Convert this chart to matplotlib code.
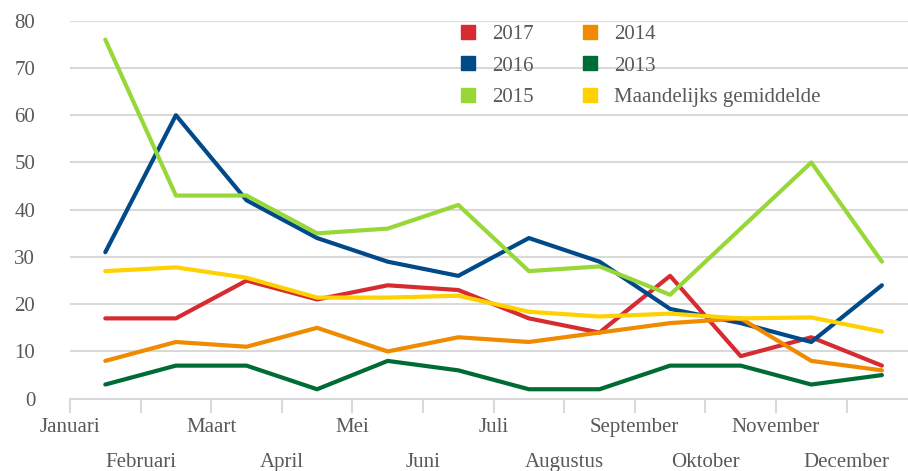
import numpy as np
import matplotlib.pyplot as plt
from matplotlib.lines import Line2D

months = ['Januari', 'Februari', 'Maart', 'April', 'Mei', 'Juni', 'Juli',
          'Augustus', 'September', 'Oktober', 'November', 'December']

y2017 = [17, 17, 25, 21, 24, 23, 17, 14, 26, 9, 13, 7]
y2016 = [31, 60, 42, 34, 29, 26, 34, 29, 19, 16, 12, 24]
y2015 = [76, 43, 43, 35, 36, 41, 27, 28, 22, 36, 50, 29]
y2014 = [8, 12, 11, 15, 10, 13, 12, 14, 16, 17, 8, 6]
y2013 = [3, 7, 7, 2, 8, 6, 2, 2, 7, 7, 3, 5]
gemiddelde = [27.0, 27.8, 25.6, 21.4, 21.4, 21.8, 18.4, 17.4, 18.0, 17.0, 17.2, 14.2]

series = [('2017', y2017, '#D62B30'),
          ('2016', y2016, '#004A8A'),
          ('2015', y2015, '#97D737'),
          ('2014', y2014, '#F08A00'),
          ('2013', y2013, '#006C35'),
          ('Maandelijks gemiddelde', gemiddelde, '#FFD100')]

plt.rcParams['font.family'] = ['Liberation Serif', 'DejaVu Serif']
txt = '#595959'
grid_c = '#D9D9D9'
fs = 15

fig = plt.figure(figsize=(9.08, 4.71), dpi=100)
ax = fig.add_axes([70 / 908, 1 - 398.7 / 471, 1 - 70 / 908, (398.7 - 20.7) / 471])

x = np.arange(len(months))
for name, vals, col in series:
    ax.plot(x, vals, color=col, lw=3, solid_capstyle='round', solid_joinstyle='round', zorder=3)

# axes / grid
ax.set_ylim(0, 80)
ax.set_yticks(range(0, 81, 10))
ax.set_xlim(-0.5, -0.5 + 838 / 70.6)
for s in ['top', 'right', 'left']:
    ax.spines[s].set_visible(False)
ax.spines['bottom'].set_color(grid_c)
ax.spines['bottom'].set_linewidth(1.5)
ax.yaxis.grid(True, color=grid_c, lw=1.5)
ax.set_axisbelow(True)
ax.tick_params(axis='y', length=0, pad=25, labelsize=fs, labelcolor=txt)

# month labels in two rows, centered on the category boundaries
ax.set_xticks(x[::2] - 0.5)
ax.set_xticklabels(months[::2])
ax.set_xticks(x[1::2] - 0.5, minor=True)
ax.set_xticklabels(months[1::2], minor=True)
ax.tick_params(axis='x', which='major', length=10, width=1.5, color=grid_c,
               pad=4, labelsize=fs, labelcolor=txt)
ax.tick_params(axis='x', which='minor', length=10, width=1.5, color=grid_c,
               pad=29, labelsize=fs, labelcolor=txt)

handles = [Line2D([], [], marker='s', ls='none', color=c, markersize=10.5) for _, _, c in series]
labels = [n for n, _, _ in series]
leg = ax.legend(handles, labels, ncol=2, frameon=False, loc='upper left',
                bbox_to_anchor=(0.443, 1.039), fontsize=fs, labelcolor=txt,
                handlelength=0.8, handletextpad=0.75, columnspacing=2.3,
                labelspacing=0.57)

plt.savefig('out.png', dpi=100)
